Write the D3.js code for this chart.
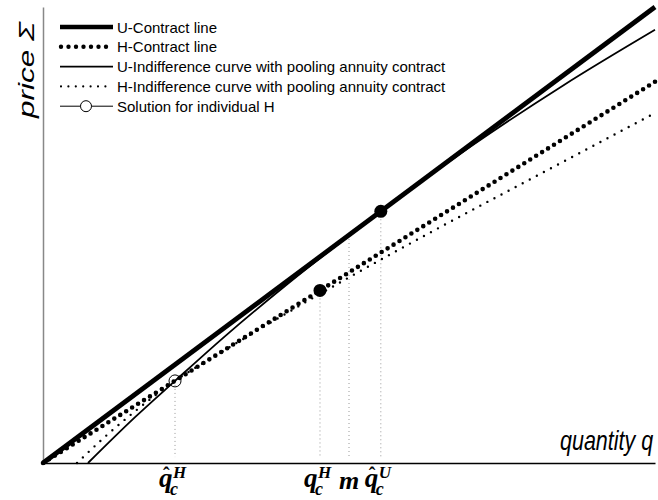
<!DOCTYPE html>
<html>
<head>
<meta charset="utf-8">
<script src="https://cdn.jsdelivr.net/npm/d3@7"></script>
<style>
  body { margin: 0; background: #fff; }
  svg { display: block; }
</style>
</head>
<body>
<div id="plot"></div>
<script>
// contract lines (quantity q, price Σ)
const uContractQ = [0, 10];
const uContractP = [0, 10];
const hContractQ = [0, 10];
const hContractP = [0, 8.36];

// indifference curves through the pooling contract
const uIndiffQ = [0.735, 1.5, 2.157, 3, 4, 5.52, 7, 8.5, 10];
const uIndiffP = [0, 1.0, 1.80, 2.81, 3.93, 5.51, 6.95, 8.28, 9.5];
const hIndiffQ = [0.556, 1.0, 1.5, 2.157, 3, 4, 5, 6.5, 8, 9.935];
const hIndiffP = [0, 0.56, 1.13, 1.80, 2.50, 3.30, 4.07, 5.18, 6.25, 7.63];

// marked points
const poolingPoint = [2.157, 1.80];
const hSolution = [4.526, 3.784];
const uSolution = [5.52, 5.52];

// guide lines down to the quantity axis
const guideQ = [2.157, 4.526, 5.0, 5.52];
const guideTop = [1.80, 3.784, 5.0, 5.52];

// quantity labels under the axis
const labelQ = [2.157, 4.526, 5.0, 5.52];
const labelSup = ['H', 'H', '', 'U'];
const labelHat = [true, false, false, true];
const labelMain = ['q', 'q', 'm', 'q'];

const legendLabels = [
  'U-Contract line',
  'H-Contract line',
  'U-Indifference curve with pooling annuity contract',
  'H-Indifference curve with pooling annuity contract',
  'Solution for individual H'
];

const width = 658, height = 500;

var svg = d3.select('#plot')
  .append('svg')
  .attr('width', width)
  .attr('height', height)
  .style('font-family', '"Liberation Sans", Arial, sans-serif');

svg.append('rect')
  .attr('width', width)
  .attr('height', height)
  .attr('fill', '#fff');

var x = d3.scaleLinear().domain([0, 10]).range([43, 655]);
var y = d3.scaleLinear().domain([0, 10]).range([463, 7]);

// guide lines
svg.append('g')
  .selectAll('line')
  .data(guideQ)
  .join('line')
  .attr('x1', d => x(d))
  .attr('x2', d => x(d))
  .attr('y1', (d, i) => y(guideTop[i]))
  .attr('y2', y(0.13))
  .attr('stroke', '#999')
  .attr('stroke-width', 1)
  .attr('stroke-dasharray', '1,3');

// axes
svg.append('g')
  .attr('transform', `translate(0, ${y(0)})`)
  .call(d3.axisBottom(x).ticks(0).tickSizeOuter(0))
  .select('.domain')
  .attr('stroke', '#000')
  .attr('stroke-width', 1.5);

svg.append('g')
  .attr('transform', `translate(${x(0)}, 0)`)
  .call(d3.axisLeft(y).ticks(0).tickSizeOuter(0))
  .select('.domain')
  .attr('stroke', '#888')
  .attr('stroke-width', 1.5);

var line = d3.line()
  .x(d => x(d[0]))
  .y(d => y(d[1]));
var curve = d3.line()
  .x(d => x(d[0]))
  .y(d => y(d[1]))
  .curve(d3.curveMonotoneX);

const zip = (a, b) => a.map((v, i) => [v, b[i]]);

// indifference curves
svg.append('path')
  .datum(zip(uIndiffQ, uIndiffP))
  .attr('fill', 'none')
  .attr('stroke', '#000')
  .attr('stroke-width', 1.8)
  .attr('d', curve);

svg.append('path')
  .datum(zip(hIndiffQ, hIndiffP))
  .attr('fill', 'none')
  .attr('stroke', '#000')
  .attr('stroke-width', 2.4)
  .attr('stroke-linecap', 'round')
  .attr('stroke-dasharray', '0,8')
  .attr('d', curve);

// contract lines
svg.append('path')
  .datum(zip(hContractQ, hContractP))
  .attr('fill', 'none')
  .attr('stroke', '#000')
  .attr('stroke-width', 4.6)
  .attr('stroke-linecap', 'round')
  .attr('stroke-dasharray', '0,7')
  .attr('d', line);

svg.append('path')
  .datum(zip(uContractQ, uContractP))
  .attr('fill', 'none')
  .attr('stroke', '#000')
  .attr('stroke-width', 4.8)
  .attr('d', line);

// solution points
svg.append('g')
  .selectAll('circle')
  .data([hSolution, uSolution])
  .join('circle')
  .attr('cx', d => x(d[0]))
  .attr('cy', d => y(d[1]))
  .attr('r', 6.5)
  .attr('fill', '#000');

svg.append('circle')
  .attr('cx', x(poolingPoint[0]))
  .attr('cy', y(poolingPoint[1]))
  .attr('r', 6)
  .attr('fill', 'none')
  .attr('stroke', '#000')
  .attr('stroke-width', 1);

// quantity labels, one text each with positioned pieces
var labels = svg.append('g')
  .style('font-family', '"Liberation Serif", "Times New Roman", serif')
  .style('font-weight', 'bold')
  .style('font-style', 'italic');

labelQ.forEach((q, i) => {
  var cx = x(q);
  var t = labels.append('text');
  if (labelMain[i] === 'm') {
    t.attr('x', cx)
      .attr('y', 489)
      .attr('text-anchor', 'middle')
      .attr('font-size', 26)
      .text('m');
    return;
  }
  if (labelHat[i]) {
    t.append('tspan')
      .attr('x', cx - 12)
      .attr('y', 482)
      .attr('font-size', 20)
      .style('font-style', 'normal')
      .text('\u02C6');
  }
  t.append('tspan')
    .attr('x', cx - 16)
    .attr('y', 487)
    .attr('font-size', 27)
    .text(labelMain[i]);
  t.append('tspan')
    .attr('x', cx - 2)
    .attr('y', 478)
    .attr('font-size', 17)
    .text(labelSup[i]);
  t.append('tspan')
    .attr('x', cx - 5)
    .attr('y', 495)
    .attr('font-size', 18)
    .text('c');
});

// axis titles (glyphs taller than wide, as in the reference)
svg.append('text')
  .attr('transform', 'translate(560, 450) scale(1, 1.25)')
  .attr('font-size', 21.5)
  .style('font-style', 'italic')
  .text('quantity q');

svg.append('text')
  .attr('transform', 'translate(34, 118) rotate(-90)')
  .attr('font-size', 22)
  .style('font-style', 'italic')
  .attr('textLength', 96)
  .attr('lengthAdjust', 'spacingAndGlyphs')
  .text('price \u03A3');

// legend
var legend = svg.append('g');
legendLabels.forEach((label, i) => {
  var cy = 27 + i * 19.8;
  var g = legend.append('g');
  if (i === 0) {
    g.append('line').attr('x1', 60).attr('x2', 113).attr('y1', cy).attr('y2', cy)
      .attr('stroke', '#000').attr('stroke-width', 4.5);
  } else if (i === 1) {
    g.append('line').attr('x1', 61).attr('x2', 107).attr('y1', cy).attr('y2', cy)
      .attr('stroke', '#000').attr('stroke-width', 4.4)
      .attr('stroke-linecap', 'round').attr('stroke-dasharray', '0,7.5');
  } else if (i === 2) {
    g.append('line').attr('x1', 60).attr('x2', 113).attr('y1', cy).attr('y2', cy)
      .attr('stroke', '#000').attr('stroke-width', 1.8);
  } else if (i === 3) {
    g.append('line').attr('x1', 61).attr('x2', 107).attr('y1', cy).attr('y2', cy)
      .attr('stroke', '#000').attr('stroke-width', 2.2)
      .attr('stroke-linecap', 'round').attr('stroke-dasharray', '0,7.4');
  } else {
    g.append('line').attr('x1', 60).attr('x2', 113).attr('y1', cy).attr('y2', cy)
      .attr('stroke', '#000').attr('stroke-width', 1);
    g.append('circle').attr('cx', 86).attr('cy', cy).attr('r', 5.5)
      .attr('fill', '#fff').attr('stroke', '#000').attr('stroke-width', 1);
  }
  g.append('text')
    .attr('x', 117)
    .attr('y', cy + 5.5)
    .attr('font-size', 15)
    .text(label);
});
</script>
</body>
</html>
